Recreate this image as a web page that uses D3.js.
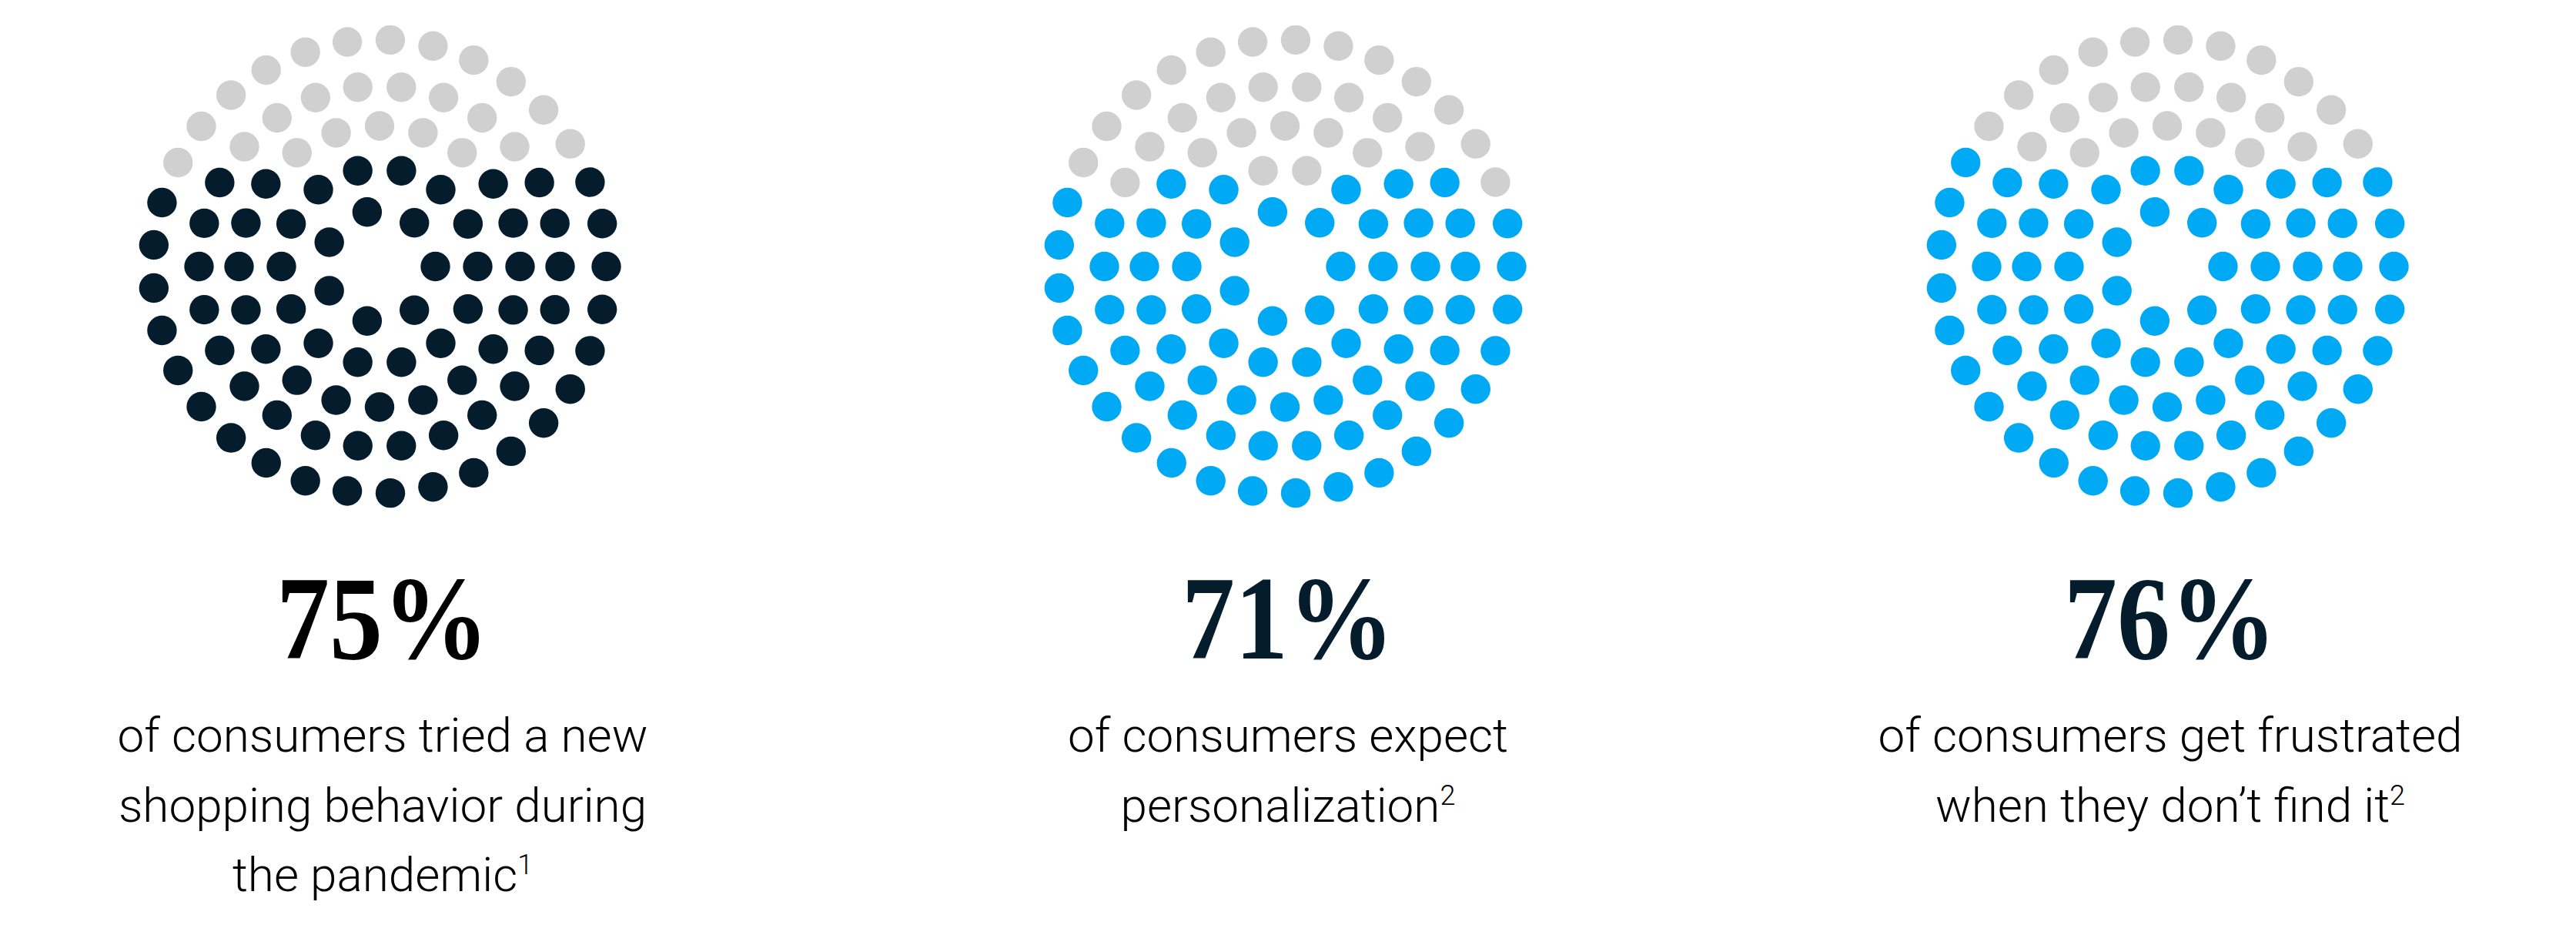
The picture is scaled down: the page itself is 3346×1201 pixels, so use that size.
<!DOCTYPE html>
<html>
<head>
<meta charset="utf-8">
<script src="https://d3js.org/d3.v7.min.js"></script>
<style>
  body { margin: 0; background: #fff; }
  .big { font-family: "Liberation Serif", "DejaVu Serif", serif; font-weight: bold; }
  .caption { font-family: Roboto, "Liberation Sans", sans-serif; font-weight: 300; }
</style>
</head>
<body>
<div id="chart"></div>
<script>
  // data
  var values = [75, 71, 76];
  var labels = ["75%", "71%", "76%"];
  var captionLines = [
    ["of consumers tried a new", "shopping behavior during", "the pandemic"],
    ["of consumers expect", "personalization"],
    ["of consumers get frustrated", "when they don\u2019t find it"]
  ];
  var footnotes = ["1", "2", "2"];
  var fillColors = ["#051c2c", "#00a9f4", "#00a9f4"];
  var numberColors = ["#000000", "#051c2c", "#051c2c"];

  // layout
  var width = 3346, height = 1201,
    panelX = [493, 1669, 2815],
    centerY = 346,
    ringCounts = [7, 14, 20, 26, 33],
    ringRadius = [72.5, 127.5, 182.5, 234.5, 294.5],
    dotRadius = 19.2,
    emptyColor = "#d0d0d0";

  var svg = d3.select("#chart").append("svg")
    .attr("width", width)
    .attr("height", height);

  function ringDots() {
    var dots = [];
    ringCounts.forEach(function (n, ri) {
      var angle = d3.scaleLinear().domain([0, n]).range([0, 2 * Math.PI]);
      d3.range(n).forEach(function (k) {
        dots.push({
          x: ringRadius[ri] * Math.cos(angle(k)),
          y: ringRadius[ri] * Math.sin(angle(k))
        });
      });
    });
    return dots;
  }

  values.forEach(function (v, i) {
    var dots = ringDots();
    // empty dots fill from the top down
    var order = dots.slice().sort(function (a, b) {
      return (Math.round(a.y * 100) - Math.round(b.y * 100)) || (a.x - b.x);
    });
    var emptyCount = dots.length - v;
    order.forEach(function (d, j) { d.on = j >= emptyCount; });

    var g = svg.append("g")
      .attr("transform", "translate(" + panelX[i] + "," + centerY + ")");

    g.selectAll("circle")
      .data(dots)
      .join("circle")
      .attr("cx", function (d) { return d.x; })
      .attr("cy", function (d) { return d.y; })
      .attr("r", dotRadius)
      .attr("fill", function (d) { return d.on ? fillColors[i] : emptyColor; });

    var tx = panelX[i] + 4;

    svg.append("text")
      .attr("class", "big")
      .attr("transform", "translate(" + tx + ",855) scale(0.89,1)")
      .attr("text-anchor", "middle")
      .attr("font-size", 155)
      .attr("fill", numberColors[i])
      .text(labels[i]);

    var cap = svg.append("text")
      .attr("class", "caption")
      .attr("text-anchor", "middle")
      .attr("font-size", 62)
      .attr("fill", "#000");

    captionLines[i].forEach(function (line, j) {
      cap.append("tspan")
        .attr("x", tx)
        .attr("y", 976 + j * 90.5)
        .text(line);
      if (j === captionLines[i].length - 1) {
        cap.append("tspan")
          .attr("dy", -22)
          .attr("font-size", 36)
          .text(footnotes[i]);
      }
    });
  });
</script>
</body>
</html>
